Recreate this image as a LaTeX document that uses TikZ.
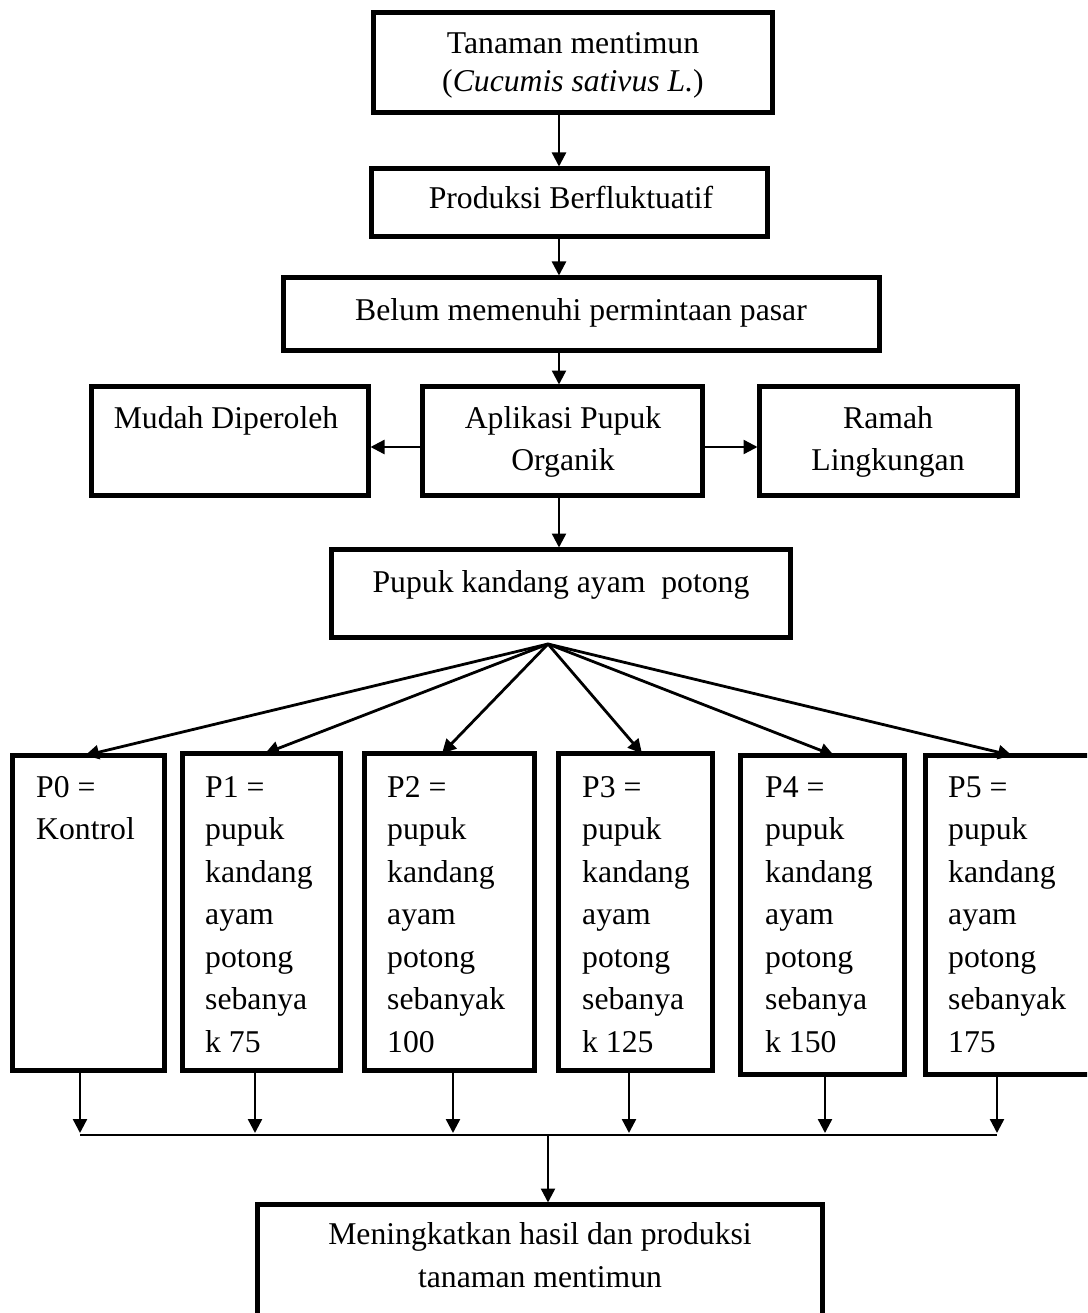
\documentclass[tikz,border=0pt]{standalone}
\usepackage{fontspec}
\setmainfont{Liberation Serif}
\usetikzlibrary{arrows.meta}
\newcommand\fs{\fontsize{31.7}{38}\selectfont}
\newcommand\plines[3]{\foreach \t [count=\i] in {#3}{\node[txt, anchor=base west] (#1-\i) at (#2, {797+42.5*\i-42.5}) {\t};}}
\begin{document}
\begin{tikzpicture}[x=1pt,y=-1pt,
  box/.style={draw, line width=5.5pt, inner sep=0pt, outer sep=0pt},
  arr/.style={line width=2.4pt, shorten >=2pt, -{Triangle[length=14pt,width=14pt]}},
  ln/.style={line width=2.2pt},
  txt/.style={font=\fs, inner sep=0pt, anchor=base}]
\useasboundingbox (0,0) rectangle (1087,1313);
\clip (0,0) rectangle (1087,1313);
\fill[white] (0,0) rectangle (1087,1313);

% boxes
\node[box, minimum width=399pt, minimum height=100pt] (b1) at (573,62.5) {};
\node[box, minimum width=396pt, minimum height=68pt] (b2) at (569.5,202.5) {};
\node[box, minimum width=596pt, minimum height=73pt] (b3) at (581.5,314) {};
\node[box, minimum width=277pt, minimum height=109pt] (mudah) at (230,441) {};
\node[box, minimum width=280pt, minimum height=109pt] (aplik) at (562.5,441) {};
\node[box, minimum width=258pt, minimum height=109pt] (ramah) at (888.5,441) {};
\node[box, minimum width=459pt, minimum height=88pt] (pupuk) at (561,593.5) {};
\node[box, minimum width=152pt, minimum height=315pt] (p0) at (88.5,913) {};
\node[box, minimum width=158pt, minimum height=317pt] (p1) at (261.5,912) {};
\node[box, minimum width=170pt, minimum height=317pt] (p2) at (449.5,912) {};
\node[box, minimum width=154pt, minimum height=317pt] (p3) at (635.5,912) {};
\node[box, minimum width=164pt, minimum height=319pt] (p4) at (822.5,915) {};
\node[box, minimum width=172pt, minimum height=319pt] (p5) at (1011.5,915) {};
\node[box, minimum width=565pt, minimum height=128pt] (fin) at (540,1268.5) {};

% texts
\node[txt] (t1a) at (573,54) {Tanaman mentimun};
\node[txt] (t1b) at (573,92) {(\textit{Cucumis sativus L.})};
\node[txt] (t2) at (571,209) {Produksi Berfluktuatif};
\node[txt] (t3) at (581,320) {Belum memenuhi permintaan pasar};
\node[txt] (tm) at (226,428) {Mudah Diperoleh};
\node[txt] (ta1) at (563,428) {Aplikasi Pupuk};
\node[txt] (ta2) at (563,470) {Organik};
\node[txt] (tr1) at (888,428) {Ramah};
\node[txt] (tr2) at (888,470) {Lingkungan};
\node[txt] (tp) at (561,592) {Pupuk kandang ayam\ \ potong};
\node[txt] (tf1) at (540,1244) {Meningkatkan hasil dan produksi};
\node[txt] (tf2) at (540,1287) {tanaman mentimun};

\plines{q0}{36}{P0 =,Kontrol}
\plines{q1}{205}{P1 =,pupuk,kandang,ayam,potong,sebanya,k 75}
\plines{q2}{387}{P2 =,pupuk,kandang,ayam,potong,sebanyak,100}
\plines{q3}{582}{P3 =,pupuk,kandang,ayam,potong,sebanya,k 125}
\plines{q4}{765}{P4 =,pupuk,kandang,ayam,potong,sebanya,k 150}
\plines{q5}{948}{P5 =,pupuk,kandang,ayam,potong,sebanyak,175}

% vertical chain
\coordinate (ax) at (559,0);
\draw[arr] (b1.south -| ax) -- (b2.north -| ax);
\draw[arr] (b2.south -| ax) -- (b3.north -| ax);
\draw[arr] (b3.south -| ax) -- (aplik.north -| ax);
\draw[arr] (aplik.south -| ax) -- (pupuk.north -| ax);

% side arrows
\coordinate (hy) at (0,447);
\draw[arr] (aplik.west |- hy) -- (mudah.east |- hy);
\draw[arr] (aplik.east |- hy) -- (ramah.west |- hy);

% fan
\coordinate (apex) at (548,644);
\foreach \n/\x in {p0/85,p1/265,p2/442,p3/642,p4/834,p5/1012}{
  \coordinate (f\n) at (\x,0);
  \draw[arr, line width=2.8pt, shorten >=0pt] (apex) -- (\n.north -| f\n);
}

% bottom collection
\foreach \n/\x [count=\i] in {p0/80,p1/255,p2/453,p3/629,p4/825,p5/997}{
  \coordinate (d\i) at (\x,1135);
  \draw[arr] (\n.south -| d\i) -- (d\i);
}
\draw[ln] (d1) -- (d6);
\coordinate (dm) at (548,1135);
\draw[arr] (dm) -- (fin.north -| dm);
\end{tikzpicture}
\end{document}
